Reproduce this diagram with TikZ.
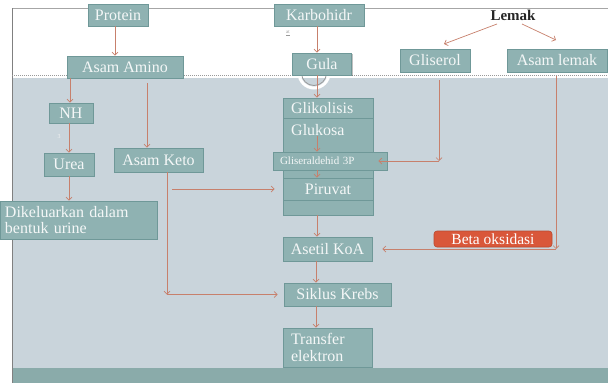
\documentclass[tikz,border=0pt]{standalone}
\usepackage{fontspec}
\setmainfont{Liberation Serif}
\usetikzlibrary{arrows.meta,shadows}
\definecolor{boxfill}{HTML}{8FB2B2}
\definecolor{boxedge}{HTML}{6F9898}
\definecolor{boxtext}{HTML}{F4F7F7}
\definecolor{bgarea}{HTML}{C9D4DB}
\definecolor{band}{HTML}{8AABAA}
\definecolor{arrowc}{HTML}{C7806C}
\definecolor{betafill}{HTML}{D9573A}
\definecolor{betaedge}{HTML}{B8492F}
\newcommand\bxfont{\fontsize{16}{18}\selectfont}
\tikzset{
  bx/.style={draw=boxedge, fill=boxfill, text=boxtext, inner sep=0pt, line width=0.6pt,
    font=\bxfont,
    drop shadow={shadow xshift=1pt, shadow yshift=-1.2pt, opacity=0.35, fill=black!70}},
  arr/.style={draw=arrowc, line width=0.7pt, -{Straight Barb[length=3pt,width=6pt]}}
}
\begin{document}
\begin{tikzpicture}[x=1pt,y=-1pt]
\useasboundingbox (0,0) rectangle (608,383);
% background
\fill[white] (0,0) rectangle (608,383);
\fill[bgarea] (12,78) rectangle (608,368);
\fill[band] (12,368) rectangle (608,383);
\draw[black!35, line width=0.6pt] (12,8) -- (608,8);
\draw[black!50, line width=0.6pt] (12,8) -- (12,383);
\draw[black!40, line width=0.7pt, dash pattern=on 1pt off 1pt] (12,75) -- (608,75);
% ring under Gula
\draw[white, line width=3pt] (314,73) circle[radius=15];
\draw[black!40, line width=0.8pt] (314,73) circle[radius=12.5];

% top row
\node[bx, minimum width=60, minimum height=22] (protein) at (118,15) {Protein};
\node[bx, minimum width=90, minimum height=22] (karbo) at (319,15) {Karbohidr};
\node[font=\bfseries\fontsize{15}{17}\selectfont, text=black!85, inner sep=0pt] (lemak) at (513,15) {Lemak};
\node[font=\fontsize{5}{6}\selectfont, text=black!40, inner sep=0pt] (atnote) at (288,33) {\underline{at}};

% second row
\node[bx, minimum width=116, minimum height=22] (asamamino) at (125,67) {Asam Amino};
\node[bx, minimum width=59, minimum height=22] (gula) at (322,64) {Gula};
\node[bx, minimum width=70, minimum height=23] (gliserol) at (435,60.5) {Gliserol};
\node[bx, minimum width=100, minimum height=23] (asamlemak) at (557,60.5) {Asam lemak};

% left branch
\node[bx, minimum width=44, minimum height=20] (nh) at (71,113) {NH};
\node[font=\fontsize{6}{7}\selectfont, text=white!90!gray, inner sep=0pt] (three) at (59,137) {3};
\node[bx, minimum width=50, minimum height=23] (urea) at (69,164.5) {Urea};
\node[bx, minimum width=89, minimum height=24] (asamketo) at (158.5,160) {Asam Keto};
\node[bx, minimum width=157, minimum height=38, text width=147, align=left,
  font=\fontsize{16}{15.5}\selectfont] (dikel) at (78.5,220) {Dikeluarkan dalam\\bentuk urine};

% glycolysis column
\node[bx, minimum width=90, minimum height=117] (column) at (328,156.5) {};
\node[bx, minimum width=90, minimum height=20, text width=74, align=left, drop shadow={opacity=0}] (glik) at (328,108) {Glikolisis};
\node[anchor=west, text=boxtext, inner sep=0pt, font=\bxfont] (glukosa) at (291,130) {Glukosa};
\node[bx, minimum width=114, minimum height=18, text width=100, align=left,
  font=\fontsize{11}{12}\selectfont] (gliseral) at (330,161) {Gliseraldehid 3P};
\node[bx, minimum width=90, minimum height=22, drop shadow={opacity=0}] (piruvat) at (328,189) {Piruvat};

% lower chain
\node[bx, minimum width=89, minimum height=24] (asetil) at (327.5,249) {Asetil KoA};
\node[bx, minimum width=107, minimum height=23] (siklus) at (337.5,294.5) {Siklus Krebs};
\node[bx, minimum width=89, minimum height=39, text width=73, align=left,
  font=\fontsize{16}{17}\selectfont] (transfer) at (327.5,347.5) {Transfer\\elektron};
\node[draw=betaedge, fill=betafill, text=white, rounded corners=3pt, inner sep=0pt, line width=0.6pt,
  minimum width=118, minimum height=16, font=\fontsize{15.5}{16}\selectfont] (beta) at (493,239) {Beta oksidasi};

% helper coordinates
\coordinate (xa) at (115,0);
\coordinate (xk) at (317,0);
\coordinate (xs) at (316,0);
\coordinate (xn) at (70,0);
\coordinate (xu) at (69,0);
\coordinate (xm) at (147,0);
\coordinate (xe) at (167,0);
\coordinate (xg) at (439,0);
\coordinate (xl) at (556,0);
\coordinate (l1) at (497,24);
\coordinate (l2) at (444,44);
\coordinate (l3) at (522,24);
\coordinate (l4) at (556,40);
\coordinate (k1) at (172,189);
\coordinate (ck) at (xe |- siklus.west);
\coordinate (cg) at (xg |- gliseral.east);
\coordinate (cl) at (xl |- asetil.east);

% connectors
\draw[arr] (xa |- protein.south) -- (xa |- asamamino.north);
\draw[arr] (xk |- karbo.south) -- (xk |- gula.north);
\draw[arr] (xk |- gula.south) -- (xk |- column.north);
\draw[arr] (l1) -- (l2);
\draw[arr] (l3) -- (l4);
\draw[arr] (xn |- asamamino.south) -- (xn |- nh.north);
\draw[arr] (xu |- nh.south) -- (xu |- urea.north);
\draw[arr] (xu |- urea.south) -- (xu |- dikel.north);
\draw[arr, shorten <=5pt] (xm |- asamamino.south) -- (xm |- asamketo.north);
\draw[arr] (xe |- asamketo.south) -- (ck);
\draw[arr, shorten >=6pt] (ck) -- (siklus.west);
\draw[arr, shorten >=8pt] (k1) -- (k1 -| piruvat.west);
\draw[arr, shorten <=8pt] (xg |- gliserol.south) -- (cg);
\draw[arr, shorten >=-9pt] (cg) -- (gliseral.east);
\draw[arr, shorten <=4pt] (xl |- asamlemak.south) -- (cl);
\draw[arr, shorten >=10pt] (cl) -- (asetil.east);
\draw[arr] (xk |- glukosa.south) -- (xk |- gliseral.north);
\draw[arr] (xk |- gliseral.south) -- (xk |- piruvat.north);
\draw[arr] (xk |- column.south) -- (xk |- asetil.north);
\draw[arr] (xs |- asetil.south) -- (xs |- siklus.north);
\draw[arr] (xs |- siklus.south) -- (xs |- transfer.north);
\end{tikzpicture}
\end{document}
